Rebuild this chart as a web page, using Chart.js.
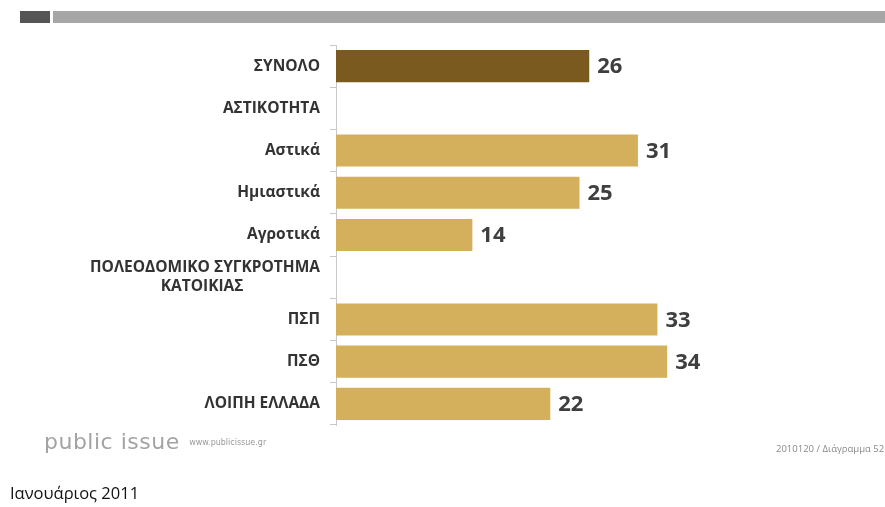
<!DOCTYPE html>
<html>
<head>
<meta charset="utf-8">
<script src="https://cdn.jsdelivr.net/npm/chart.js@4"></script>
<style>
  html, body { margin: 0; padding: 0; background: #fff; }
  body { width: 885px; height: 507px; position: relative; overflow: hidden; }
  #wrap { position: absolute; left: 0; top: 0; width: 885px; height: 507px; }
  .bar-dark { position: absolute; left: 20px; top: 11px; width: 30px; height: 12px; background: #555; }
  .bar-light { position: absolute; left: 53px; top: 11px; width: 832px; height: 12px; background: #a6a6a6; }
  .brand { position: absolute; left: 44px; top: 429px; font-family: "DejaVu Sans", sans-serif; font-size: 22px; color: #a3a3a3; letter-spacing: 0.5px; }
  .brand small { font-size: 8px; color: #999; letter-spacing: 0; vertical-align: 4px; margin-left: 2px; }
  .code { position: absolute; left: 776px; top: 442px; font-family: "Open Sans", sans-serif; font-size: 9.5px; color: #888; white-space: nowrap; }
  .date { position: absolute; left: 10px; top: 481px; font-family: "Open Sans", sans-serif; font-size: 16.5px; color: #111; }
</style>
</head>
<body>
<div class="bar-dark"></div>
<div class="bar-light"></div>
<div id="wrap"><canvas id="chart"></canvas></div>
<div class="brand">public issue <small>www.publicissue.gr</small></div>
<div class="code">2010120 / Διάγραμμα 52</div>
<div class="date">Ιανουάριος 2011</div>
<script>
const categories = [
  'ΣΥΝΟΛΟ',
  'ΑΣΤΙΚΟΤΗΤΑ',
  'Αστικά',
  'Ημιαστικά',
  'Αγροτικά',
  ['ΠΟΛΕΟΔΟΜΙΚΟ ΣΥΓΚΡΟΤΗΜΑ', 'ΚΑΤΟΙΚΙΑΣ' + '\u00a0'.repeat(19)],
  'ΠΣΠ',
  'ΠΣΘ',
  'ΛΟΙΠΗ ΕΛΛΑΔΑ'
];
const values = [26, null, 31, 25, 14, null, 33, 34, 22];

const totalColor = '#7a5a1f';
const groupColor = '#d4af5c';

const valueLabels = {
  id: 'valueLabels',
  afterDatasetsDraw(chart) {
    const ctx = chart.ctx;
    const meta = chart.getDatasetMeta(0);
    ctx.save();
    ctx.font = 'bold 22px "Open Sans", sans-serif';
    ctx.fillStyle = '#3f3f3f';
    ctx.textAlign = 'left';
    ctx.textBaseline = 'middle';
    meta.data.forEach((bar, i) => {
      const v = chart.data.datasets[0].data[i];
      if (v == null) return;
      ctx.fillText(String(v), bar.x + 8, bar.y + 1);
    });
    ctx.restore();
  }
};

new Chart(document.getElementById('chart'), {
  type: 'bar',
  data: {
    labels: categories,
    datasets: [{
      data: values,
      backgroundColor: (c) => c.dataIndex === 0 ? totalColor : groupColor,
      categoryPercentage: 1,
      barPercentage: 0.76,
    }]
  },
  options: {
    indexAxis: 'y',
    responsive: true,
    maintainAspectRatio: false,
    animation: false,
    layout: { padding: { top: 45, bottom: 82, right: 62, left: 0 } },
    plugins: {
      legend: { display: false },
      tooltip: { enabled: false }
    },
    scales: {
      x: {
        display: false,
        min: 0,
        max: 50
      },
      y: {
        afterFit(scale) { scale.width = 336; },
        grid: {
          offset: true,
          drawOnChartArea: false,
          tickLength: 6,
          color: '#c8c8c8'
        },
        border: { color: '#c8c8c8', width: 1 },
        ticks: {
          padding: 10,
          color: '#333',
          font: { family: '"Open Sans", sans-serif', size: 15.5, weight: 'bold', lineHeight: 1.2 }
        }
      }
    }
  },
  plugins: [valueLabels]
});
</script>
</body>
</html>
